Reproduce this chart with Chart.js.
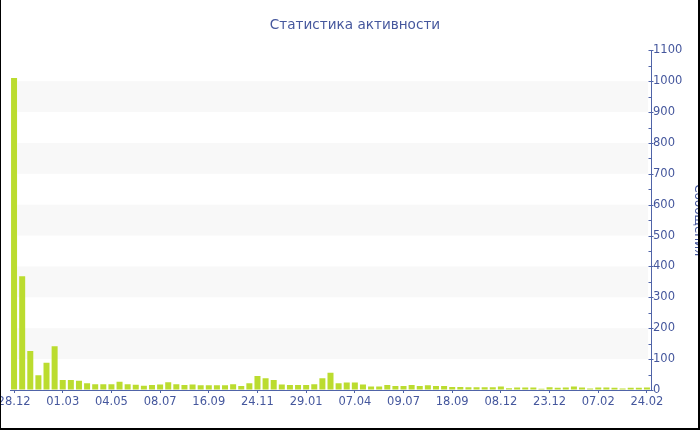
<!DOCTYPE html>
<html>
<head>
<meta charset="utf-8">
<title>Статистика активности</title>
<script src="https://cdn.jsdelivr.net/npm/chart.js@4/dist/chart.umd.min.js"></script>
<style>
  html, body { margin: 0; padding: 0; background: #fff; }
  #wrap { position: relative; width: 700px; height: 430px; overflow: hidden; }
  #chart { position: absolute; left: 0; top: 0; }
  #frame {
    position: absolute; left: 0; top: 0; width: 700px; height: 430px;
    box-sizing: border-box; pointer-events: none;
    border-left: 1px solid #000; border-right: 2px solid #000; border-bottom: 2px solid #000;
  }
</style>
</head>
<body>
<div id="wrap">
  <canvas id="chart" width="700" height="430"></canvas>
  <div id="frame"></div>
</div>
<script>
// Dates shown under the axis, one every sixth period
const tickLabels = ['28.12', '01.03', '04.05', '08.07', '16.09', '24.11', '29.01',
                    '07.04', '09.07', '18.09', '08.12', '23.12', '07.02', '24.02'];
const periodsPerLabel = 6;

// Messages per period
const messages = [
  1010, 368, 126, 48, 88, 142, 32, 32, 30, 22,
  19, 19, 19, 27, 19, 17, 14, 16, 18, 25,
  19, 16, 18, 15, 15, 15, 15, 19, 13, 22,
  45, 38, 32, 18, 16, 16, 16, 19, 38, 56,
  22, 24, 24, 18, 11, 11, 16, 13, 13, 16,
  13, 15, 13, 13, 10, 10, 9, 9, 9, 9,
  11, 6, 8, 8, 8, 4, 9, 7, 8, 11,
  8, 5, 8, 8, 7, 5, 7, 7, 8
];

const yMax = 1100;
const yStep = 100;
const yMinorStep = 50;
// lower edges of the shaded horizontal bands
const bandStarts = [100, 300, 500, 700, 900];

const categories = messages.map((_, i) =>
  i % periodsPerLabel === 0 ? (tickLabels[i / periodsPerLabel] || '') : '');

const TEXT = '#45579d';
const AXIS = '#5064a8';
const FONT = 'DejaVu Sans, Verdana, sans-serif';

// light grey stripes behind the bars
const bands = {
  id: 'bands',
  beforeDatasetsDraw(chart) {
    const { ctx, chartArea, scales: { y } } = chart;
    ctx.save();
    ctx.fillStyle = '#f8f8f8';
    const x0 = chartArea.left + 7.5;
    const x1 = chartArea.right - 3;
    bandStarts.forEach(v => {
      const top = y.getPixelForValue(v + yStep);
      const bottom = y.getPixelForValue(v);
      ctx.fillRect(x0, top, x1 - x0, bottom - top);
    });
    ctx.restore();
  }
};

// small tick marks on the inner side of the value axis
const yTickMarks = {
  id: 'yTickMarks',
  afterDraw(chart) {
    const { ctx, scales: { y } } = chart;
    const ax = Math.round(y.left) + 0.5;
    ctx.save();
    ctx.strokeStyle = AXIS;
    ctx.lineWidth = 1;
    ctx.beginPath();
    for (let v = 0; v <= yMax; v += yMinorStep) {
      const py = Math.round(y.getPixelForValue(v)) + 0.5;
      const major = v % yStep === 0;
      ctx.moveTo(ax - 3, py);
      ctx.lineTo(major ? ax + 2 : ax, py);
    }
    ctx.stroke();
    ctx.restore();
  }
};

new Chart(document.getElementById('chart'), {
  type: 'bar',
  data: {
    labels: categories,
    datasets: [{
      data: messages,
      backgroundColor: '#bbdc2f',
      borderWidth: 0,
      barPercentage: 0.74,
      categoryPercentage: 1.0
    }]
  },
  options: {
    responsive: false,
    animation: false,
    layout: { padding: { left: 10, right: 0, top: 0, bottom: 0 } },
    plugins: {
      legend: { display: false },
      tooltip: { enabled: false },
      title: {
        display: true,
        text: 'Статистика активности',
        color: TEXT,
        font: { family: FONT, size: 13.6, weight: 'normal' },
        padding: { top: 17.5, bottom: 16.5 }
      }
    },
    scales: {
      x: {
        grid: {
          display: true,
          offset: false,
          drawOnChartArea: false,
          drawTicks: true,
          tickLength: 3,
          tickColor: c => (c.index % periodsPerLabel === 0 ? AXIS : 'rgba(0,0,0,0)')
        },
        border: { display: true, color: AXIS, width: 1 },
        ticks: {
          autoSkip: false,
          maxRotation: 0,
          minRotation: 0,
          padding: 2,
          color: TEXT,
          font: { family: FONT, size: 11.5 }
        },
        afterFit(scale) {
          scale.height = 40;
          scale.paddingLeft = 0;
          scale.paddingRight = 0;
        }
      },
      y: {
        position: 'right',
        min: 0,
        max: yMax,
        grid: { display: true, drawOnChartArea: false, drawTicks: false },
        border: { display: true, color: AXIS, width: 1 },
        ticks: {
          stepSize: yStep,
          padding: 2,
          color: TEXT,
          font: { family: FONT, size: 11.5 },
          callback: v => String(v)
        },
        title: {
          display: true,
          text: 'Сообщения',
          color: TEXT,
          font: { family: FONT, size: 12 },
          padding: { top: -5, bottom: 0 }
        },
        afterFit(scale) {
          scale.width = 49;
        }
      }
    }
  },
  plugins: [bands, yTickMarks]
});
</script>
</body>
</html>
